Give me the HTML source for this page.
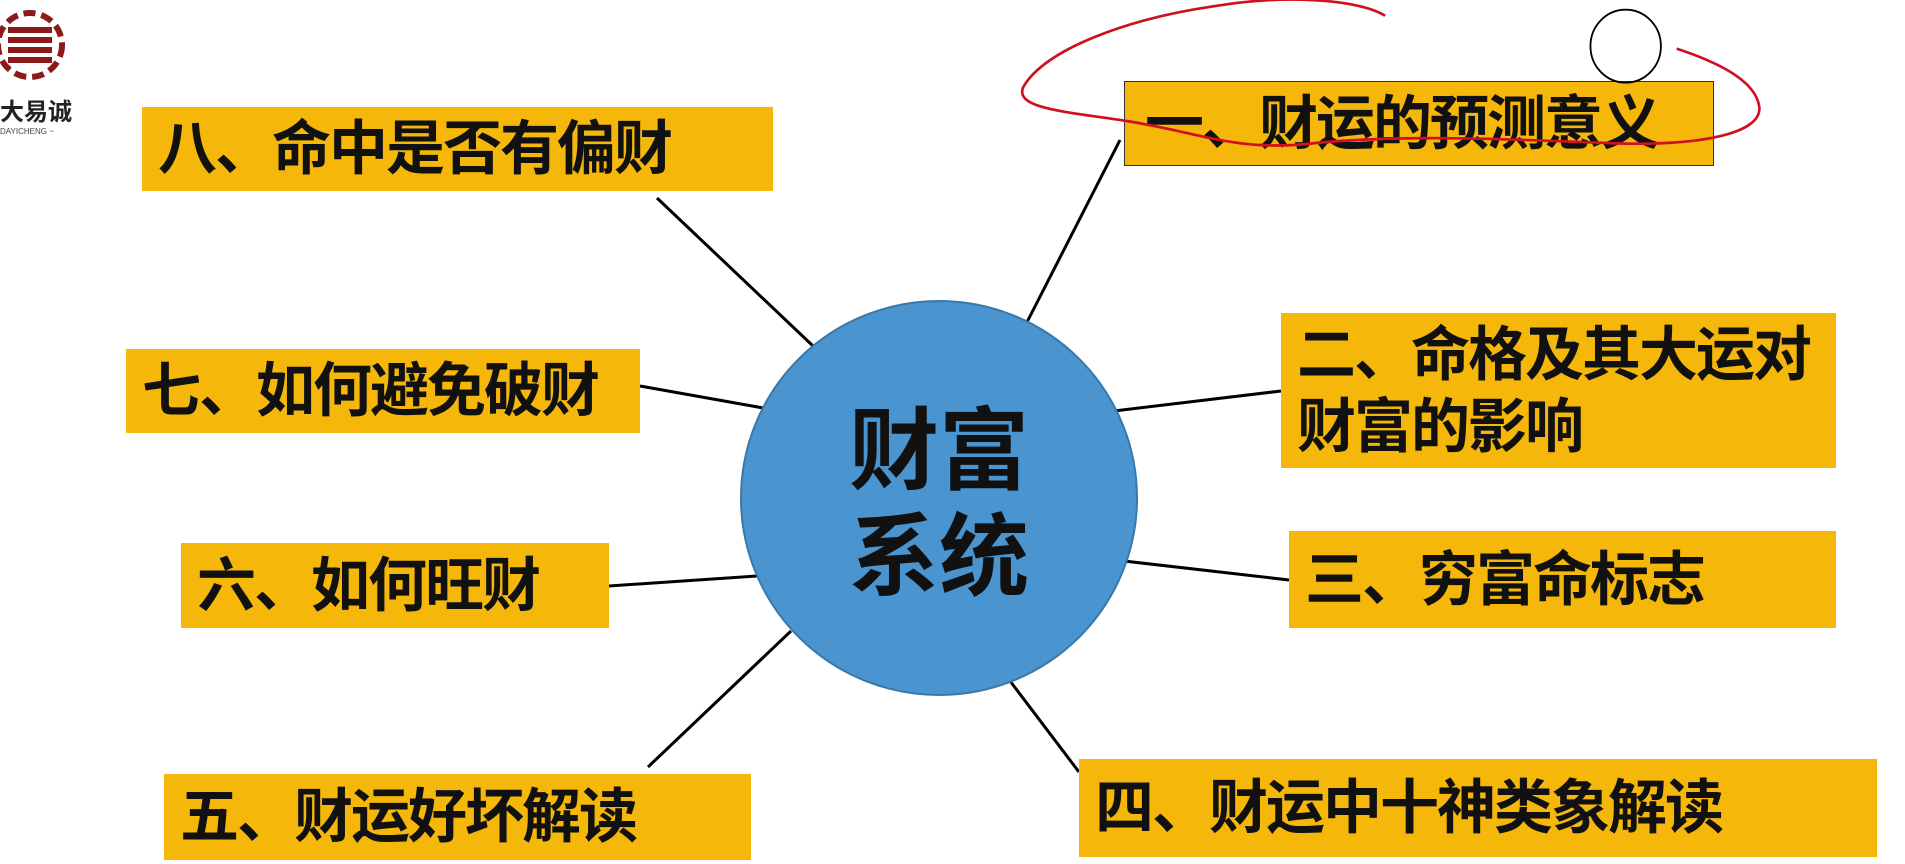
<!DOCTYPE html>
<html><head><meta charset="utf-8"><style>
body{margin:0;width:1905px;height:864px;background:#fff;overflow:hidden;position:relative;font-family:"Liberation Sans","Noto Sans CJK SC",sans-serif}
.b{position:absolute;background:#f5b70a;box-sizing:border-box;font-weight:bold;font-size:59px;line-height:72px;color:#111;padding-left:16px;display:flex;align-items:center;letter-spacing:-2px}
</style></head><body>
<svg width="1905" height="864" style="position:absolute;left:0;top:0">
<g stroke="#000" stroke-width="3">
<line x1="657" y1="198" x2="813" y2="346"/>
<line x1="1120" y1="140" x2="1024" y2="328"/>
<line x1="640" y1="386" x2="769" y2="409"/>
<line x1="1114" y1="411" x2="1281" y2="391"/>
<line x1="609" y1="586" x2="757" y2="576"/>
<line x1="1124" y1="561" x2="1289" y2="580"/>
<line x1="648" y1="767" x2="791" y2="631"/>
<line x1="1007" y1="677" x2="1079" y2="772"/>
</g>
<ellipse cx="939" cy="498" rx="198" ry="197" fill="#4a94cf" stroke="#3a78a8" stroke-width="2"/>
<text x="939" y="482" font-size="90" font-weight="bold" text-anchor="middle" fill="#111" font-family="Liberation Sans,Noto Sans CJK SC,sans-serif">财富</text>
<text x="939" y="588" font-size="90" font-weight="bold" text-anchor="middle" fill="#111" font-family="Liberation Sans,Noto Sans CJK SC,sans-serif">系统</text>
<g fill="none" stroke="#8b1a1a" stroke-width="6">
<circle cx="30" cy="45" r="32" stroke-dasharray="12 6"/>
<line x1="8" y1="30" x2="52" y2="30"/><line x1="8" y1="40" x2="52" y2="40"/><line x1="8" y1="50" x2="52" y2="50"/><line x1="8" y1="60" x2="52" y2="60"/>
</g>
<text x="0" y="120" font-size="24" font-weight="bold" fill="#222" font-family="Liberation Sans,Noto Sans CJK SC,sans-serif">大易诚</text>
<text x="0" y="134" font-size="8" fill="#444">DAYICHENG ~</text>
</svg>
<div class="b" style="left:142px;top:107px;width:631px;height:84px">八、命中是否有偏财</div>
<div class="b" style="left:1124px;top:81px;width:590px;height:85px;border:1px solid #333;padding-left:20px">一、财运的预测意义</div>
<div class="b" style="left:126px;top:349px;width:514px;height:84px">七、如何避免破财</div>
<div class="b" style="left:1281px;top:313px;width:555px;height:155px;align-items:flex-start;padding-top:6px">二、命格及其大运对<br>财富的影响</div>
<div class="b" style="left:181px;top:543px;width:428px;height:85px;padding-left:16px">六、如何旺财</div>
<div class="b" style="left:1289px;top:531px;width:547px;height:97px">三、穷富命标志</div>
<div class="b" style="left:164px;top:774px;width:587px;height:86px">五、财运好坏解读</div>
<div class="b" style="left:1079px;top:759px;width:798px;height:98px">四、财运中十神类象解读</div>
<svg width="1905" height="864" style="position:absolute;left:0;top:0">
<g transform="scale(1.215)" fill="none">
<path d="M1140,13 C1120,0 1060,-5 1000,5 C930,15 860,40 842,72 C835,90 880,92 930,100 C990,110 1020,125 1080,118 C1160,110 1250,115 1330,118 C1400,120 1450,110 1448,88 C1445,65 1410,50 1380,40" stroke="#d01020" stroke-width="2.2"/>
<ellipse cx="1338" cy="38" rx="29" ry="30" stroke="#000" stroke-width="1.5"/>
</g>
</svg>
</body></html>
